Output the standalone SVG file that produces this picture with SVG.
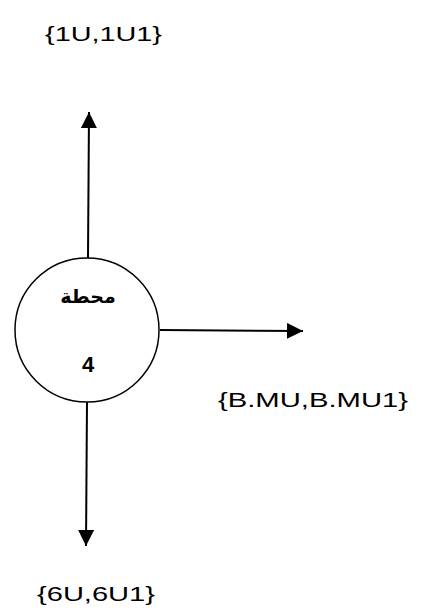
<svg xmlns="http://www.w3.org/2000/svg" width="423" height="612" viewBox="0 0 423 612">
<style>
.lbl{font-family:"Liberation Sans","DejaVu Sans",sans-serif;font-size:21px;fill:#000}
.edge{stroke:#000;stroke-width:2;fill:none}
</style>
<defs>
<marker id="ah" viewBox="0 0 16 16" refX="16" refY="8" markerWidth="16" markerHeight="16" markerUnits="userSpaceOnUse" orient="auto">
<path d="M0,0 L16,8 L0,16 Z" fill="#000"/>
</marker>
</defs>
<rect width="423" height="612" fill="#fff"/>
<g id="connectors">
<line class="edge" x1="88" y1="258" x2="89" y2="112" marker-end="url(#ah)"/>
<line class="edge" x1="160" y1="330" x2="303" y2="331" marker-end="url(#ah)"/>
<line class="edge" x1="87" y1="402" x2="86" y2="546" marker-end="url(#ah)"/>
</g>
<g id="node4">
<circle cx="87" cy="330" r="72" fill="#fff" stroke="#000" stroke-width="1.5"/>
<text x="88" y="303" text-anchor="middle" style="font-family:'DejaVu Sans',sans-serif;font-size:19px;font-weight:bold" direction="rtl">محطة</text>
<text x="88" y="372" text-anchor="middle" style="font-family:'Liberation Sans',sans-serif;font-size:22px;font-weight:bold">4</text>
</g>
<g id="labels">
<text class="lbl" x="45" y="41" textLength="117" lengthAdjust="spacingAndGlyphs">{1U,1U1}</text>
<text class="lbl" x="218" y="407" textLength="190" lengthAdjust="spacingAndGlyphs">{B.MU,B.MU1}</text>
<text class="lbl" x="37" y="601" textLength="118" lengthAdjust="spacingAndGlyphs">{6U,6U1}</text>
</g>
</svg>
